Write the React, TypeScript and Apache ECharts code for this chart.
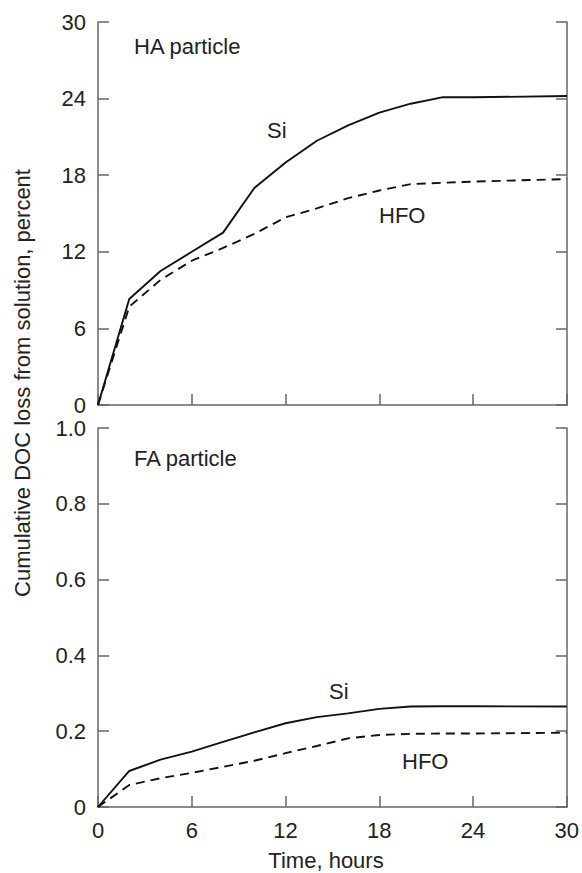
import React, { useEffect, useRef } from "react";
import * as echarts from "echarts";

const hours = [0, 2, 4, 6, 8, 10, 12, 14, 16, 18, 20, 22, 24, 30];
const haSi = [0, 8.3, 10.5, 12.0, 13.5, 17.0, 19.0, 20.7, 21.9, 22.9, 23.6, 24.1, 24.1, 24.2];
const haHfo = [0, 7.7, 9.8, 11.3, 12.3, 13.4, 14.7, 15.4, 16.2, 16.8, 17.3, 17.4, 17.5, 17.7];
const faSi = [0, 0.095, 0.125, 0.146, 0.172, 0.197, 0.221, 0.237, 0.247, 0.259, 0.265, 0.266, 0.266, 0.265];
const faHfo = [0, 0.058, 0.076, 0.09, 0.106, 0.122, 0.142, 0.161, 0.181, 0.19, 0.193, 0.194, 0.194, 0.196];

const FONT = "'Liberation Sans', Arial, Helvetica, sans-serif";
const AXIS_COLOR = "#666";
const TEXT_COLOR = "#222";

const pairs = (xs: number[], ys: number[]) => xs.map((x, i) => [x, ys[i]]);

export default function App() {
  const ref = useRef<HTMLDivElement>(null);
  useEffect(() => {
    if (!ref.current) return;
    const chart = echarts.init(ref.current, undefined, { renderer: "svg" });
    const axisLine = { show: true, lineStyle: { color: AXIS_COLOR, width: 1.5 } };
    const tick = (len: number) => ({ show: true, inside: true, length: len, lineStyle: { color: AXIS_COLOR, width: 1.5 } });
    const label = { color: TEXT_COLOR, fontSize: 22, fontFamily: FONT, margin: 12 };
    const xAxisBase = (gridIndex: number, showLabel: boolean) => ({
      type: "value",
      gridIndex,
      min: 0,
      max: 30,
      interval: 6,
      axisLine,
      axisTick: tick(11),
      axisLabel: { ...label, show: showLabel, margin: 12 },
      splitLine: { show: false },
    });
    const yLeft = (gridIndex: number, max: number, interval: number, fmt: (v: number) => string) => ({
      type: "value",
      gridIndex,
      position: "left",
      min: 0,
      max,
      interval,
      axisLine,
      axisTick: tick(11),
      axisLabel: { ...label, formatter: fmt },
      splitLine: { show: false },
    });
    const yRight = (gridIndex: number, max: number, interval: number) => ({
      type: "value",
      gridIndex,
      position: "right",
      min: 0,
      max,
      interval,
      axisLine,
      axisTick: tick(11),
      axisLabel: { show: false },
      splitLine: { show: false },
    });
    const solid = { color: "#111", width: 1.9, type: "solid" };
    const dashed = { color: "#111", width: 1.9, type: [9, 6] };
    const txt = (x: number, y: number, text: string, align = "left", rotation = 0) => ({
      type: "text",
      x,
      y,
      rotation,
      style: { text, fill: TEXT_COLOR, font: `22px ${FONT}`, align, verticalAlign: "middle" },
    });
    chart.setOption({
      animation: false,
      backgroundColor: "#fff",
      grid: [
        { left: 98, right: 15, top: 22, height: 383 },
        { left: 98, right: 15, top: 428, height: 379 },
      ],
      xAxis: [xAxisBase(0, false), xAxisBase(1, true)],
      yAxis: [
        yLeft(0, 30, 6, (v: number) => String(v)),
        yRight(0, 30, 6),
        yLeft(1, 1, 0.2, (v: number) => (v === 0 ? "0" : v.toFixed(1))),
        yRight(1, 1, 0.2),
      ],
      series: [
        { type: "line", name: "HA Si", xAxisIndex: 0, yAxisIndex: 0, data: pairs(hours, haSi), showSymbol: false, lineStyle: solid },
        { type: "line", name: "HA HFO", xAxisIndex: 0, yAxisIndex: 0, data: pairs(hours, haHfo), showSymbol: false, lineStyle: dashed },
        { type: "line", name: "FA Si", xAxisIndex: 1, yAxisIndex: 2, data: pairs(hours, faSi), showSymbol: false, lineStyle: solid },
        { type: "line", name: "FA HFO", xAxisIndex: 1, yAxisIndex: 2, data: pairs(hours, faHfo), showSymbol: false, lineStyle: dashed },
      ],
      graphic: [
        txt(134, 46, "HA particle"),
        txt(267, 130, "Si"),
        txt(379, 215, "HFO"),
        txt(134, 458, "FA particle"),
        txt(329, 691, "Si"),
        txt(402, 761, "HFO"),
        txt(326, 860, "Time, hours", "center"),
        txt(22, 383, "Cumulative DOC loss from solution, percent", "center", Math.PI / 2),
      ],
    });
    return () => chart.dispose();
  }, []);
  return <div ref={ref} style={{ position: "absolute", left: 0, top: 0, width: 582, height: 873 }} />;
}
